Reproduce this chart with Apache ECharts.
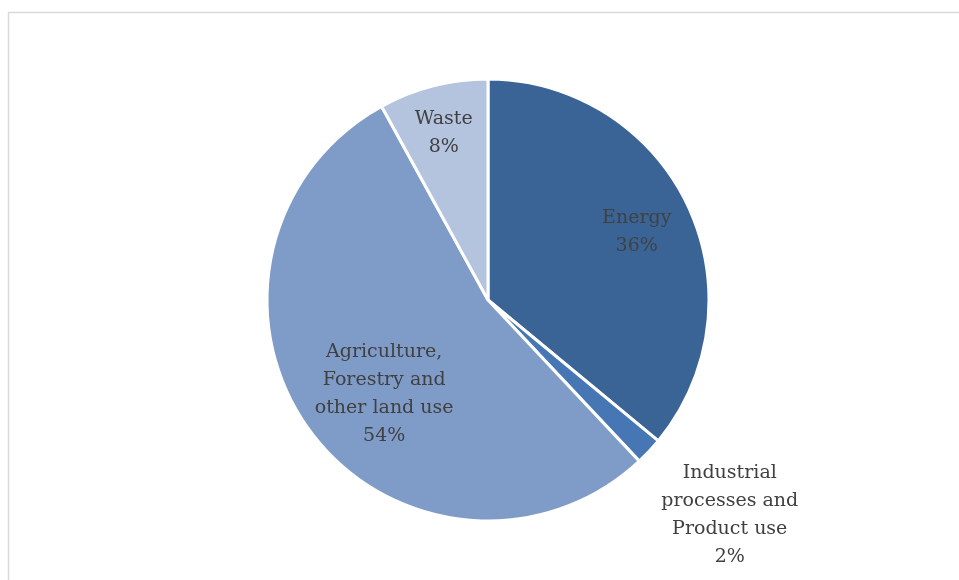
<!DOCTYPE html>
<html>
<head>
<meta charset="utf-8">
<style>
  html, body { margin: 0; padding: 0; background: #ffffff; }
  #chart { width: 959px; height: 580px; }
</style>
<script src="https://cdn.jsdelivr.net/npm/echarts@6/dist/echarts.min.js"></script>
</head>
<body>
<div id="chart"></div>
<script>
// Emission shares by sector (%)
const categories = ['Energy', 'Industrial\nprocesses and\nProduct use', 'Agriculture,\nForestry and\nother land use', 'Waste'];
const shares = [36, 2, 54, 8];
const sliceColors = ['#3b6496', '#4676b4', '#7f9cc8', '#b4c3de'];

// label nudges (px) from the slice's inner label anchor
const labelNudge = [[46, -20], [159, 137], [-12, 27], [-16, -57]];

const chart = echarts.init(document.getElementById('chart'), null, { renderer: 'canvas' });

const data = categories.map((name, i) => ({
  name: name,
  value: shares[i],
  itemStyle: { color: sliceColors[i] }
}));

chart.setOption({
  animation: false,
  graphic: [{
    type: 'rect',
    shape: { x: 8.5, y: 12.5, width: 1000, height: 700 },
    style: { fill: 'none', stroke: '#d9d9d9', lineWidth: 1.5 },
    silent: true
  }],
  series: [{
    type: 'pie',
    center: [488, 300],
    radius: [0, 221],
    startAngle: 90,
    clockwise: true,
    avoidLabelOverlap: false,
    itemStyle: { borderColor: '#ffffff', borderWidth: 3 },
    label: {
      show: true,
      position: 'inside',
      formatter: p => p.name + '\n' + p.value + '%',
      fontFamily: 'DejaVu Serif',
      fontSize: 19,
      lineHeight: 28,
      color: '#404040',
      align: 'center'
    },
    labelLine: { show: false },
    labelLayout: params => {
      const n = labelNudge[params.dataIndex];
      return { dx: n[0], dy: n[1], align: 'center' };
    },
    data: data
  }]
});
</script>
</body>
</html>
